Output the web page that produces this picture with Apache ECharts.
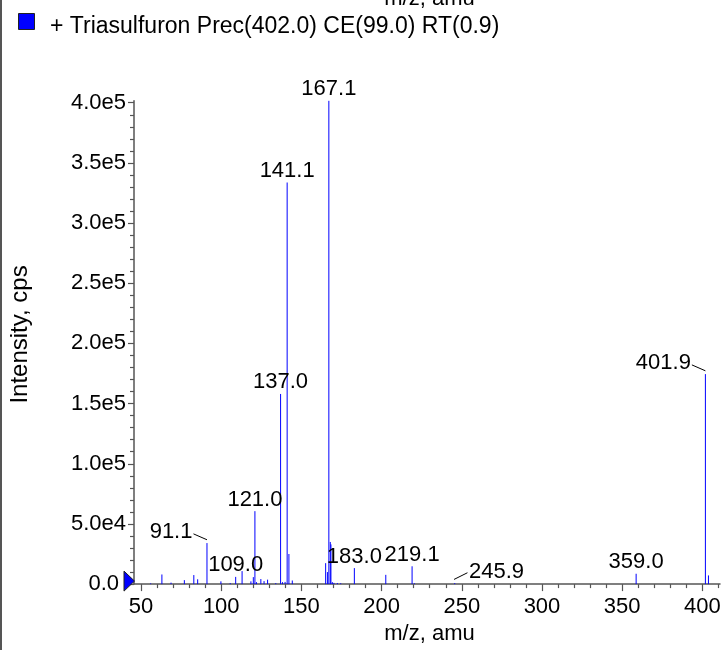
<!DOCTYPE html>
<html>
<head>
<meta charset="utf-8">
<script src="https://cdn.jsdelivr.net/npm/echarts@6/dist/echarts.min.js"></script>
<style>
html,body{margin:0;padding:0;background:#fff;}
#chart{width:725px;height:650px;}
</style>
</head>
<body>
<div id="chart"></div>
<script>
// ---- data ----
const seriesName = '+ Triasulfuron Prec(402.0) CE(99.0) RT(0.9)';
const peakMz = [56.0, 63.0, 68.7, 77.0, 82.9, 85.3, 91.1, 99.8, 105.6, 109.0, 113.0, 118.5, 120.0, 121.0, 122.0, 124.7, 126.7, 128.9, 134.0, 137.0, 138.2, 139.8, 141.1, 142.2, 144.3, 165.1, 166.2, 167.1, 168.0, 168.4, 169.3, 170.3, 172.4, 174.5, 183.0, 202.6, 219.0, 220.5, 245.6, 358.7, 401.9, 403.8];
const peakIntensity = [600, 8000, 1200, 3300, 7500, 4000, 34100, 2300, 800, 6000, 10800, 2300, 5800, 60600, 1600, 4200, 2500, 3700, 800, 158000, 1600, 1800, 333700, 25000, 3000, 17400, 10000, 401600, 35000, 33000, 1600, 1000, 900, 700, 13300, 7700, 14800, 600, 800, 8600, 174500, 7200];
const labelMz = [91.1, 109.0, 121.0, 137.0, 141.1, 167.1, 183.0, 219.0, 245.6, 358.7, 401.9];
const labelText = ['91.1', '109.0', '121.0', '137.0', '141.1', '167.1', '183.0', '219.1', '245.9', '359.0', '401.9'];
const xTickValues = [50, 100, 150, 200, 250, 300, 350, 400];
const xMinorTickValues = [60, 70, 80, 90, 110, 120, 130, 140, 160, 170, 180, 190, 210, 220, 230, 240, 260, 270, 280, 290, 310, 320, 330, 340, 360, 370, 380, 390, 410];
const yTickValues = [0, 50000, 100000, 150000, 200000, 250000, 300000, 350000, 400000];
const yMinorTickValues = [10000, 20000, 30000, 40000, 60000, 70000, 80000, 90000, 110000, 120000, 130000, 140000, 160000, 170000, 180000, 190000, 210000, 220000, 230000, 240000, 260000, 270000, 280000, 290000, 310000, 320000, 330000, 340000, 360000, 370000, 380000, 390000];
const xMin = 45.6, xMax = 411;
const yMax = 401600;

// ---- styles ----
const FONT = '"Liberation Sans", Arial, Helvetica, sans-serif';
const FS = 22;
const AXIS_COLOR = '#555555';
const STICK = '#0000ff';
const labelStyle = {
  '91.1': {mode: 'left'},
  '401.9': {mode: 'left'},
  '245.9': {mode: 'right'}
};

const sticks = peakMz.map((m, i) => [m, peakIntensity[i]]);
const labels = labelMz.map((m, i) => [m, peakIntensity[peakMz.indexOf(m)], labelText[i]]);

function fmtY(v) {
  if (v === 0) return '{z|0.0}';
  return v.toExponential(1).replace('+', '');
}

const chart = echarts.init(document.getElementById('chart'), null, {renderer: 'canvas'});
const option = {
  animation: false,
  backgroundColor: '#ffffff',
  textStyle: {fontFamily: FONT},
  grid: {left: 133, right: 5, top: 100.8, bottom: 61.3, containLabel: false},
  xAxis: [{
    type: 'value', min: xMin, max: xMax, position: 'bottom',
    name: 'm/z, amu', nameLocation: 'middle', nameGap: 38,
    nameTextStyle: {fontFamily: FONT, fontSize: FS, color: '#000', padding: [0, 0, 0, 5]},
    axisLine: {show: true, onZero: false, lineStyle: {color: AXIS_COLOR, width: 1.5}},
    axisTick: {show: true, customValues: xTickValues, length: 7, lineStyle: {color: AXIS_COLOR, width: 1.2}},
    axisLabel: {show: true, customValues: xTickValues, margin: 12, fontFamily: FONT, fontSize: FS, color: '#000'},
    splitLine: {show: false}
  }, {
    type: 'value', min: xMin, max: xMax, position: 'bottom', gridIndex: 0,
    axisLine: {show: false},
    axisTick: {show: true, customValues: xMinorTickValues, length: 4, lineStyle: {color: AXIS_COLOR, width: 1.2}},
    axisLabel: {show: false},
    splitLine: {show: false}
  }],
  yAxis: [{
    type: 'value', min: 0, max: yMax, position: 'left',
    name: 'Intensity, cps', nameLocation: 'middle', nameGap: 102, nameRotate: 90,
    nameTextStyle: {fontFamily: FONT, fontSize: 24, color: '#000', padding: [0, 0, 0, 16]},
    axisLine: {show: true, onZero: false, lineStyle: {color: AXIS_COLOR, width: 1.5}},
    axisTick: {show: true, customValues: yTickValues, length: 6, lineStyle: {color: AXIS_COLOR, width: 1.2}},
    axisLabel: {show: true, customValues: yTickValues, margin: 8, fontFamily: FONT, fontSize: FS, color: '#000',
      formatter: fmtY, rich: {z: {fontFamily: FONT, fontSize: FS, color: '#000', padding: [0, 7, 0, 0]}}},
    splitLine: {show: false}
  }, {
    type: 'value', min: 0, max: yMax, position: 'left', gridIndex: 0,
    axisLine: {show: false},
    axisTick: {show: true, customValues: yMinorTickValues, length: 4, lineStyle: {color: AXIS_COLOR, width: 1.2}},
    axisLabel: {show: false},
    splitLine: {show: false}
  }],
  graphic: [
    {type: 'line', shape: {x1: 1, y1: 0, x2: 1, y2: 650}, style: {stroke: '#555', lineWidth: 2}, silent: true},
    {type: 'rect', shape: {x: 18.5, y: 13.5, width: 16, height: 16}, style: {fill: '#0000ff', stroke: '#222', lineWidth: 1}},
    {type: 'text', x: 50, y: 33.3 - 0.3 * 23, style: {text: seriesName, font: '23px ' + FONT, fill: '#000', textVerticalAlign: 'middle', textAlign: 'left'}},
    {type: 'text', x: 429.5, y: 6 - 0.3 * FS, style: {text: 'm/z, amu', font: FS + 'px ' + FONT, fill: '#000', textVerticalAlign: 'middle', textAlign: 'center'}}
  ],
  series: [{
    name: seriesName,
    type: 'custom',
    xAxisIndex: 0, yAxisIndex: 0,
    data: sticks,
    encode: {x: 0, y: 1},
    renderItem: function (params, api) {
      const p0 = api.coord([api.value(0), 0]);
      const p1 = api.coord([api.value(0), api.value(1)]);
      return {type: 'line', shape: {x1: p0[0], y1: p0[1], x2: p1[0], y2: p1[1]},
        style: {stroke: STICK, lineWidth: 1}};
    }
  }, {
    type: 'custom',
    xAxisIndex: 0, yAxisIndex: 0,
    data: labels,
    encode: {x: 0, y: 1},
    renderItem: function (params, api) {
      const item = labels[params.dataIndex];
      const p = api.coord([item[0], item[1]]);
      const txt = item[2];
      const st = labelStyle[txt];
      const font = FS + 'px ' + FONT;
      const children = [];
      const base = p[1] - 5;
      if (!st) {
        children.push({type: 'text', x: p[0], y: base - 0.3 * FS,
          style: {text: txt, font: font, fill: '#000', textAlign: 'center', textVerticalAlign: 'middle'}});
      } else if (st.mode === 'left') {
        children.push({type: 'text', x: p[0] - 14.5, y: base - 0.3 * FS,
          style: {text: txt, font: font, fill: '#000', textAlign: 'right', textVerticalAlign: 'middle'}});
        children.push({type: 'line', shape: {x1: p[0] - 13.5, y1: p[1] - 9.2, x2: p[0], y2: p[1] - 3.3},
          style: {stroke: '#000', lineWidth: 1}});
      } else {
        children.push({type: 'text', x: p[0] + 14.3, y: base - 0.3 * FS,
          style: {text: txt, font: font, fill: '#000', textAlign: 'left', textVerticalAlign: 'middle'}});
        children.push({type: 'line', shape: {x1: p[0] - 0.7, y1: p[1] - 3.7, x2: p[0] + 12.7, y2: p[1] - 10.4},
          style: {stroke: '#000', lineWidth: 1}});
      }
      return {type: 'group', children: children};
    }
  }, {
    type: 'custom',
    xAxisIndex: 0, yAxisIndex: 0,
    data: [[xMin, 0]],
    encode: {x: 0, y: 1},
    z: 10,
    renderItem: function (params, api) {
      const p = api.coord([api.value(0), api.value(1)]);
      return {type: 'polygon', shape: {points: [[p[0] - 10, p[1] - 13], [p[0] + 0.5, p[1] - 3], [p[0] - 10, p[1] + 7]]},
        style: {fill: '#0000ff', stroke: '#222', lineWidth: 1}};
    }
  }]
};
chart.setOption(option);
</script>
</body>
</html>
